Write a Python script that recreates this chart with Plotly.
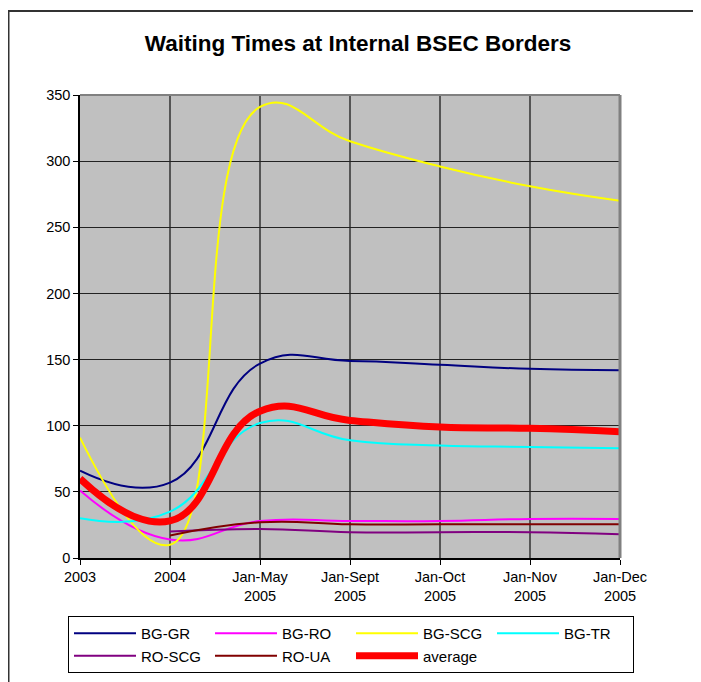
import plotly.graph_objects as go

categories = ["2003", "2004", "Jan-May<br>2005", "Jan-Sept<br>2005",
              "Jan-Oct<br>2005", "Jan-Nov<br>2005", "Jan-Dec<br>2005"]

bg_gr = [66, 57, 147, 149, 146, 143, 142]
bg_ro = [51, 14, 28, 28, 28, 29.5, 29.5]
bg_scg = [91, 10, 341, 315, 296, 281, 270]
bg_tr = [30, 35, 102, 89, 85, 84, 83]
ro_scg = [None, 20, 22, 19.5, 19.5, 19.5, 18]
ro_ua = [None, 17, 27, 25.5, 25.5, 25.5, 25.5]
average = [60, 28, 111, 104, 99, 98, 95.5]

series = [
    ("BG-GR", bg_gr, "#000080", 2),
    ("BG-RO", bg_ro, "#FF00FF", 2),
    ("BG-SCG", bg_scg, "#FFFF00", 2),
    ("BG-TR", bg_tr, "#00FFFF", 2),
    ("RO-SCG", ro_scg, "#800080", 2),
    ("RO-UA", ro_ua, "#800000", 2),
    ("average", average, "#FF0000", 7),
]

fig = go.Figure()
for name, vals, color, w in series:
    fig.add_trace(go.Scatter(
        x=categories, y=vals, name=name, mode="lines",
        line=dict(color=color, width=w, shape="spline", smoothing=1.3),
        connectgaps=False,
    ))

# page has an 8px body margin: figure is 693x674 drawn at (8, 8)
W, H = 693, 674
PL, PT, PW, PH = 72, 87, 540, 463   # plot area in figure coords

font = "Arial, Liberation Sans, sans-serif"
fig.update_layout(
    width=W, height=H,
    margin=dict(l=PL, r=W - PL - PW, t=PT, b=H - PT - PH, autoexpand=False),
    paper_bgcolor="white",
    plot_bgcolor="#C0C0C0",
    font=dict(family=font, size=14.5, color="black"),
    title=dict(text="<b>Waiting Times at Internal BSEC Borders</b>",
               x=350 / W, xanchor="center", y=1 - 35 / H, yanchor="middle",
               font=dict(family=font, size=22.5, color="black")),
    xaxis=dict(type="category", range=[0, 6], showgrid=True,
               gridcolor="#555555", gridwidth=2,
               showline=True, linecolor="black", linewidth=1.5,
               ticks="outside", ticklen=5, tickcolor="black",
               tickfont=dict(size=14.5), zeroline=False),
    yaxis=dict(range=[0, 350], dtick=50, showgrid=True,
               gridcolor="#222222", gridwidth=1.3,
               showline=True, linecolor="black", linewidth=1.5,
               ticks="outside", ticklen=5, tickcolor="black",
               tickfont=dict(size=14.5), zeroline=False),
    legend=dict(orientation="h", x=-12 / PW, xanchor="left",
                y=-58 / PH, yanchor="top",
                bordercolor="black", borderwidth=1,
                bgcolor="white", entrywidth=64, entrywidthmode="pixels",
                itemwidth=62, tracegroupgap=0,
                font=dict(size=15), traceorder="normal"),
    showlegend=True,
)

# plot-area border (grey, top and right) and chart frame
fig.add_shape(type="line", xref="paper", yref="paper", x0=0, x1=1, y0=1, y1=1,
              line=dict(color="#808080", width=2), layer="above")
fig.add_shape(type="line", xref="paper", yref="paper", x0=1, x1=1, y0=0, y1=1,
              line=dict(color="#808080", width=3), layer="above")
fig.add_shape(type="line", xref="paper", yref="paper",
              x0=-PL / PW, x1=(W - PL) / PW,
              y0=(PT + PH - 3) / PH, y1=(PT + PH - 3) / PH,
              line=dict(color="#333333", width=2))
fig.add_shape(type="line", xref="paper", yref="paper",
              x0=-PL / PW + 0.5 / PW, x1=-PL / PW + 0.5 / PW,
              y0=(PT + PH - 3) / PH, y1=-(H - PT - PH) / PH,
              line=dict(color="#333333", width=2))

fig.write_html("out.html")
